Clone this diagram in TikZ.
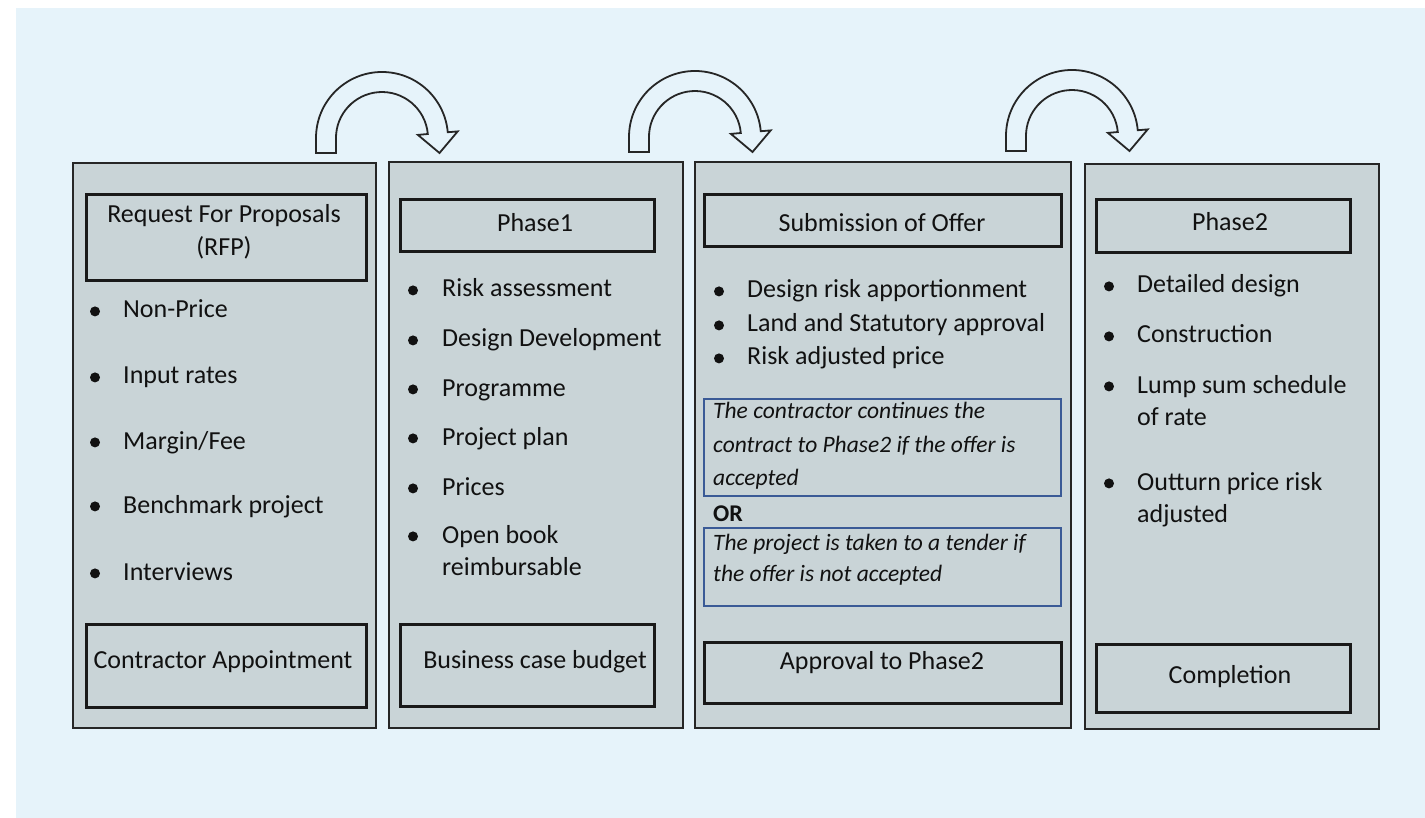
\documentclass[tikz,border=0pt]{standalone}
\usepackage{fontspec}
\setmainfont{Carlito}
\definecolor{bgblue}{HTML}{E6F3FA}
\definecolor{panelgray}{HTML}{C9D4D7}
\definecolor{linedark}{HTML}{262626}
\definecolor{boxblue}{HTML}{3A5A96}
\definecolor{txt}{HTML}{111111}
\begin{document}
\begin{tikzpicture}[x=1pt,y=1pt,
 panel/.style={draw=linedark, line width=2pt, fill=panelgray, anchor=north west, inner sep=0pt},
 ibox/.style={draw=black!90, line width=2.6pt, anchor=north west, inner sep=0pt},
 bbox/.style={draw=boxblue, line width=2pt, anchor=north west, inner sep=0pt},
 lbl/.style={font=\fontsize{26}{30}\selectfont, text=txt, inner sep=0pt, anchor=base},
 itm/.style={font=\fontsize{26}{30}\selectfont, text=txt, inner sep=0pt, anchor=base west},
 ital/.style={font=\fontsize{23.5}{28}\selectfont\itshape, text=txt, inner sep=0pt, anchor=base west},
 orlbl/.style={font=\fontsize{24}{28}\selectfont\bfseries, text=txt, inner sep=0pt, anchor=base west},
 curved/.style={draw=linedark, line width=1.8pt, fill=bgblue, line join=miter}
]
\useasboundingbox (0,0) rectangle (1425,-818);
\fill[white] (0,0) rectangle (1425,-818);
\fill[bgblue] (16,-8) rectangle (1425,-818);

% curved arrows
\foreach \dx/\dy in {0/0, 313/1, 690/2}{
\begin{scope}[shift={(\dx,\dy)}]
\draw[curved] (316,-153) -- (316,-138) arc[start angle=180, end angle=5, radius=66]
  -- (457.7,-131.4) -- (439.5,-153) -- (417.9,-134.9) -- (427.8,-134.0)
  arc[start angle=5, end angle=180, radius=46] -- (336,-153) -- cycle;
\end{scope}
}

% panels
\node[panel, minimum width=303pt, minimum height=565pt] (p1) at (72,-162) {};
\node[panel, minimum width=294pt, minimum height=566pt] (p2) at (388,-161) {};
\node[panel, minimum width=376pt, minimum height=566pt] (p3) at (694,-161) {};
\node[panel, minimum width=294pt, minimum height=565pt] (p4) at (1084,-163) {};

% inner boxes
\node[ibox, minimum width=280pt, minimum height=86pt] (b1t) at (85,-193) {};
\node[ibox, minimum width=280pt, minimum height=83pt] (b1b) at (85,-623) {};
\node[ibox, minimum width=254pt, minimum height=52pt] (b2t) at (399,-198) {};
\node[ibox, minimum width=254pt, minimum height=82pt] (b2b) at (399,-623) {};
\node[ibox, minimum width=357pt, minimum height=52pt] (b3t) at (703,-193) {};
\node[ibox, minimum width=357pt, minimum height=61pt] (b3b) at (703,-641) {};
\node[ibox, minimum width=254pt, minimum height=53pt] (b4t) at (1095,-198) {};
\node[ibox, minimum width=254pt, minimum height=68pt] (b4b) at (1095,-643) {};
\node[bbox, minimum width=357pt, minimum height=97pt] (bb1) at (703,-398) {};
\node[bbox, minimum width=357pt, minimum height=78pt] (bb2) at (703,-527) {};

% panel 1
\node[lbl] (t1a) at (224,-223) {Request For Proposals};
\node[lbl] (t1b) at (224,-256) {(RFP)};
\node[itm] (i11) at (123,-318) {Non-Price};
\node[itm] (i12) at (123,-384) {Input rates};
\node[itm] (i13) at (123,-449) {Margin/Fee};
\node[itm] (i14) at (123,-513) {Benchmark project};
\node[itm] (i15) at (123,-580) {Interviews};
\foreach \yy in {318,384,449,513,580}{\fill[txt] (95,{-\yy+6.6}) circle (5);}
\node[lbl] (t1c) at (223,-668) {Contractor Appointment};

% panel 2
\node[lbl] (t2a) at (535,-232) {Phase1};
\node[itm] (i21) at (442,-297) {Risk assessment};
\node[itm] (i22) at (442,-347) {Design Development};
\node[itm] (i23) at (442,-396) {Programme};
\node[itm] (i24) at (442,-445) {Project plan};
\node[itm] (i25) at (442,-495) {Prices};
\node[itm] (i26) at (442,-543) {Open book};
\node[itm] (i27) at (442,-575) {reimbursable};
\foreach \yy in {297,347,396,445,495,543}{\fill[txt] (413,{-\yy+6.6}) circle (5);}
\node[lbl] (t2c) at (535,-668) {Business case budget};

% panel 3
\node[lbl] (t3a) at (882,-232) {Submission of Offer};
\node[itm] (i31) at (747,-298) {Design risk apportionment};
\node[itm] (i32) at (747,-332) {Land and Statutory approval};
\node[itm] (i33) at (747,-365) {Risk adjusted price};
\foreach \yy in {298,332,365}{\fill[txt] (719,{-\yy+6.6}) circle (5);}
\node[ital] (c1) at (713,-418) {The contractor continues the};
\node[ital] (c2) at (713,-452) {contract to Phase2 if the offer is};
\node[ital] (c3) at (713,-485) {accepted};
\node[orlbl] (or) at (713,-521) {OR};
\node[ital] (c4) at (713,-550) {The project is taken to a tender if};
\node[ital] (c5) at (713,-581) {the offer is not accepted};
\node[lbl] (t3c) at (882,-669) {Approval to Phase2};

% panel 4
\node[lbl] (t4a) at (1230,-231) {Phase2};
\node[itm] (i41) at (1137,-293) {Detailed design};
\node[itm] (i42) at (1137,-343) {Construction};
\node[itm] (i43) at (1137,-393) {Lump sum schedule};
\node[itm] (i44) at (1137,-425) {of rate};
\node[itm] (i45) at (1137,-490) {Outturn price risk};
\node[itm] (i46) at (1137,-522) {adjusted};
\foreach \yy in {293,343,393,490}{\fill[txt] (1109,{-\yy+6.6}) circle (5);}
\node[lbl] (t4c) at (1230,-683) {Completion};
\end{tikzpicture}
\end{document}
